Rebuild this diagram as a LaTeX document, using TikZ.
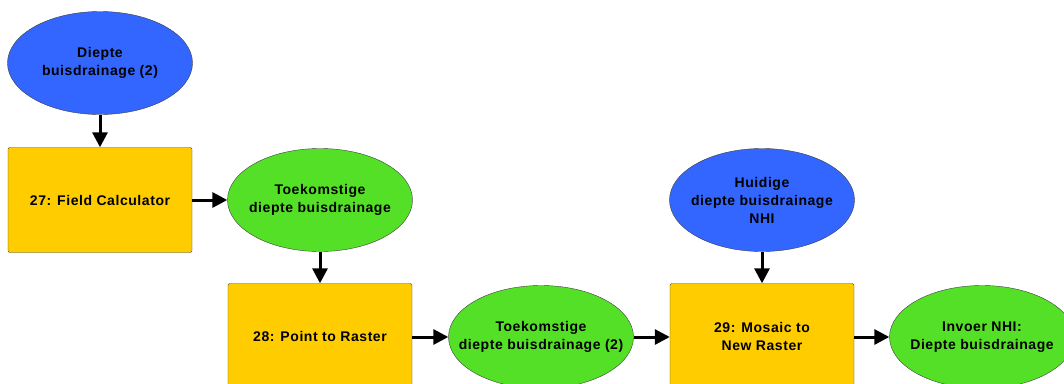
\documentclass[tikz,border=0pt]{standalone}
\usepackage{fontspec}
\setmainfont{Liberation Sans}[LetterSpace=4]
\usetikzlibrary{shapes.geometric,arrows.meta}
\definecolor{inblue}{RGB}{51,102,255}
\definecolor{outgreen}{RGB}{84,224,38}
\definecolor{toolyellow}{RGB}{255,204,0}

\begin{document}
\begin{tikzpicture}[x=1pt,y=-1pt,
    every node/.style={align=center,font=\fontsize{14}{18}\selectfont\bfseries},
    invar/.style={ellipse,draw=black!75,fill=inblue,minimum width=185pt,minimum height=103pt,inner sep=0pt,label=center:{#1}},
    outvar/.style={ellipse,draw=black!75,fill=outgreen,minimum width=185pt,minimum height=103pt,inner sep=0pt,label=center:{#1}},
    tool/.style={rectangle,rounded corners=2pt,draw=black!75,fill=toolyellow,minimum width=184pt,minimum height=105pt},
    flow/.style={line width=3pt,-{Triangle[length=15pt,width=15pt]}}]
	\useasboundingbox(0,0)rectangle(1064,383);
	\clip(0,0)rectangle(1064,383);
	% inputs
	\node[invar={Diepte\\buisdrainage (2)}](d2)at(100,63){};
	\node[invar={Huidige\\diepte buisdrainage\\NHI}](nhi)at(762,200){};
	% tools
	\node[tool](t27)at(100,200){27: Field Calculator};
	\node[tool](t28)at(320,336){28: Point to Raster};
	\node[tool](t29)at(762,336){29: Mosaic to\\New Raster};
	% outputs
	\node[outvar={Toekomstige\\diepte buisdrainage}](o27)at(320,200){};
	\node[outvar={Toekomstige\\diepte buisdrainage (2)}](o28)at(541,337){};
	\node[outvar={Invoer NHI:\\Diepte buisdrainage}](o29)at(982,337){};
	% connectors
	\draw[flow](d2)--(t27);
	\draw[flow](t27)--(o27);
	\draw[flow](o27)--(t28);
	\draw[flow](t28.east|-o28)--(o28);
	\draw[flow](o28)--(t29.west|-o28);
	\draw[flow](nhi)--(t29);
	\draw[flow](t29.east|-o29)--(o29);
\end{tikzpicture}
\end{document}
